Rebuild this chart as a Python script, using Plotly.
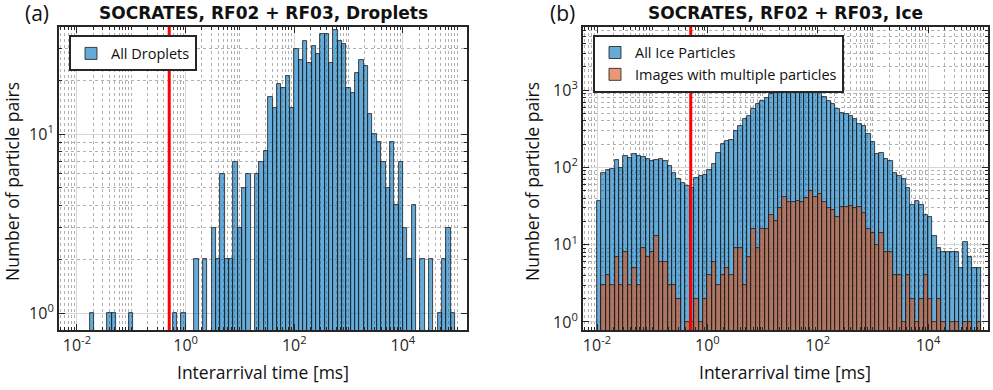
import numpy as np
import plotly.graph_objects as go

# log10 bin edges (ms): 0.08 decade wide, 87 bins from 10^-2
BIN_START = -2.0
BIN_STEP = 0.08
N_BINS = 87
THRESHOLD_MS = 0.5

droplet_counts = [0, 0, 0, 1, 0, 0, 0, 1, 1, 0,
                  0, 0, 1, 0, 0, 0, 0, 0, 0, 0,
                  0, 0, 1, 0, 1, 0, 0, 2, 0, 2,
                  0, 3, 2, 6, 2, 2, 7, 3, 5, 6,
                  0, 6, 7, 8, 16, 14, 19, 18, 21, 14,
                  30, 26, 33, 25, 31, 28, 36, 36, 25, 38,
                  33, 32, 18, 17, 22, 26, 24, 13, 10, 9,
                  7, 5, 9, 4, 7, 3, 2, 4, 0, 2,
                  0, 2, 0, 1, 2, 3, 1]

ice_counts = [37, 84, 92, 96, 124, 99, 140, 134, 148, 140,
              136, 130, 121, 124, 127, 121, 104, 84, 70, 63,
              57, 54, 73, 77, 81, 94, 112, 155, 199, 220,
              224, 296, 343, 420, 464, 567, 658, 727, 803, 887,
              1030, 1052, 1105, 1085, 1137, 1137, 1105, 1085, 1009, 980,
              933, 828, 727, 658, 578, 513, 488, 464, 420, 362,
              344, 268, 213, 148, 155, 127, 120, 85, 77, 71,
              54, 33, 37, 33, 24, 23, 13, 9, 8, 8,
              8, 8, 5, 11, 7, 5, 5]

multi_counts = [0, 3, 4, 3, 7, 3, 8, 3, 5, 3,
                9, 7, 8, 13, 6, 6, 3, 3, 2, 0,
                1, 1, 2, 1, 2, 4, 6, 3, 4, 5,
                4, 9, 9, 3, 7, 16, 9, 16, 16, 24,
                20, 30, 42, 36, 36, 37, 36, 40, 49, 42,
                45, 36, 30, 28, 23, 31, 31, 32, 30, 31,
                26, 16, 14, 10, 14, 8, 8, 4, 4, 1,
                4, 2, 1, 2, 4, 2, 1, 2, 1, 0,
                1, 1, 0, 1, 1, 0, 1]

x_major = [-2, 0, 2, 4]
x_labels = ["10<sup>-2</sup>", "10<sup>0</sup>", "10<sup>2</sup>", "10<sup>4</sup>"]

centers = BIN_START + BIN_STEP * (np.arange(N_BINS) + 0.5)


def masked(vals):
    return [v if v > 0 else None for v in vals]


BLUE = "rgba(0,114,189,0.6)"
ORANGE = "rgba(217,83,25,0.6)"
EDGE = "#1a1a1a"
AX = "#262626"
FONT = "Open Sans"

fig = go.Figure()
fig.add_trace(go.Bar(x=centers, y=masked(droplet_counts), width=BIN_STEP,
                     marker=dict(color=BLUE, line=dict(color=EDGE, width=0.8)),
                     name="All Droplets", xaxis="x", yaxis="y", legend="legend"))
fig.add_trace(go.Bar(x=centers, y=masked(ice_counts), width=BIN_STEP,
                     marker=dict(color=BLUE, line=dict(color=EDGE, width=0.8)),
                     name="All Ice Particles", xaxis="x2", yaxis="y2", legend="legend2"))
fig.add_trace(go.Bar(x=centers, y=masked(multi_counts), width=BIN_STEP,
                     marker=dict(color=ORANGE, line=dict(color=EDGE, width=0.8)),
                     name="Images with multiple particles", xaxis="x2", yaxis="y2", legend="legend2"))

# red threshold line
for xr, yr in [("x", "y domain"), ("x2", "y2 domain")]:
    fig.add_shape(type="line", xref=xr, yref=yr, x0=np.log10(THRESHOLD_MS), x1=np.log10(THRESHOLD_MS),
                  y0=0, y1=1, line=dict(color="#ff0000", width=3), layer="above")

# minor grid positions
minor_x = [np.log10(k * 10.0 ** n) for n in range(-3, 6) for k in range(1, 10)
           if not (k == 1 and n % 2 == 0)]


def minor_y(top):
    return [k * 10 ** n for n in range(0, top) for k in range(2, 10)] + [10 ** n for n in range(0, top + 1)]


def xaxis(domain, rng, anchor):
    return dict(domain=domain, range=rng, anchor=anchor, tickmode="array", tickvals=x_major, ticktext=x_labels,
                showgrid=True, gridcolor="#d6d6d6", gridwidth=1, zeroline=False,
                ticks="inside", ticklen=6, tickwidth=1, tickcolor=AX,
                showline=True, linecolor=AX, linewidth=2, mirror="allticks",
                minor=dict(tickvals=minor_x, showgrid=True, gridcolor="#b0b0b0", griddash="dot",
                           gridwidth=1, ticks="inside", ticklen=3, tickcolor=AX),
                tickfont=dict(family=FONT, size=16, color=AX), automargin=False)


def yaxis(anchor, rng, top):
    vals = [10 ** n for n in range(0, top + 1)]
    return dict(type="log", anchor=anchor, domain=[0, 1], range=rng, tickmode="array",
                tickvals=vals, ticktext=["10<sup>%d</sup>" % n for n in range(0, top + 1)],
                showgrid=True, gridcolor="#d6d6d6", gridwidth=1, zeroline=False,
                ticks="inside", ticklen=6, tickwidth=1, tickcolor=AX,
                showline=True, linecolor=AX, linewidth=2, mirror="allticks",
                minor=dict(tickvals=minor_y(top + 1), showgrid=True, gridcolor="#b0b0b0", griddash="dot",
                           gridwidth=1, ticks="inside", ticklen=3, tickcolor=AX),
                tickfont=dict(family=FONT, size=16, color=AX), automargin=False)


fig.update_layout(
    width=993, height=390,
    margin=dict(l=0, r=0, t=27, b=60),
    plot_bgcolor="white", paper_bgcolor="white",
    barmode="overlay", bargap=0,
    font=dict(family=FONT, color=AX),
    xaxis=xaxis([59 / 993, 467 / 993], [-2.33, 5.18], "y"),
    yaxis=yaxis("x", [-0.095, 1.598], 1),
    xaxis2=xaxis([583 / 993, 988 / 993], [-2.254, 5.087], "y2"),
    yaxis2=yaxis("x2", [-0.104, 3.818], 3),
    legend=dict(x=69 / 993, y=0.972, xanchor="left", yanchor="top", bgcolor="white",
                bordercolor=AX, borderwidth=2, font=dict(size=14.5, color="#111111")),
    legend2=dict(x=593 / 993, y=0.975, xanchor="left", yanchor="top", bgcolor="white",
                 bordercolor=AX, borderwidth=2, tracegroupgap=0, font=dict(size=14.5, color="#111111")),
    showlegend=True,
)

ann = [
    dict(text="<b>SOCRATES, RF02 + RF03, Droplets</b>", x=263, y=13, size=17, family="DejaVu Sans"),
    dict(text="<b>SOCRATES, RF02 + RF03, Ice</b>", x=785, y=13, size=17, family="DejaVu Sans"),
    dict(text="(a)", x=37, y=13, size=21, family=FONT),
    dict(text="(b)", x=562, y=13, size=21, family=FONT),
    dict(text="Interarrival time [ms]", x=263, y=372, size=17.5, family=FONT),
    dict(text="Interarrival time [ms]", x=785, y=372, size=17.5, family=FONT),
]
for a in ann:
    fig.add_annotation(text=a["text"], x=a["x"] / 993, y=1 - (a["y"] - 27) / 303,
                       xref="paper", yref="paper", showarrow=False,
                       xanchor="center", yanchor="middle",
                       font=dict(family=a["family"], size=a["size"], color="#111111"))
for xc in [12, 532]:
    fig.add_annotation(text="Number of particle pairs", x=xc / 993, y=1 - (182 - 27) / 303,
                       xref="paper", yref="paper",
                       showarrow=False, textangle=-90, xanchor="center", yanchor="middle",
                       font=dict(size=17.5, color="#111111"))

fig.write_html("out.html", config={"displayModeBar": False},
               post_script="document.body.style.margin='0px';")
